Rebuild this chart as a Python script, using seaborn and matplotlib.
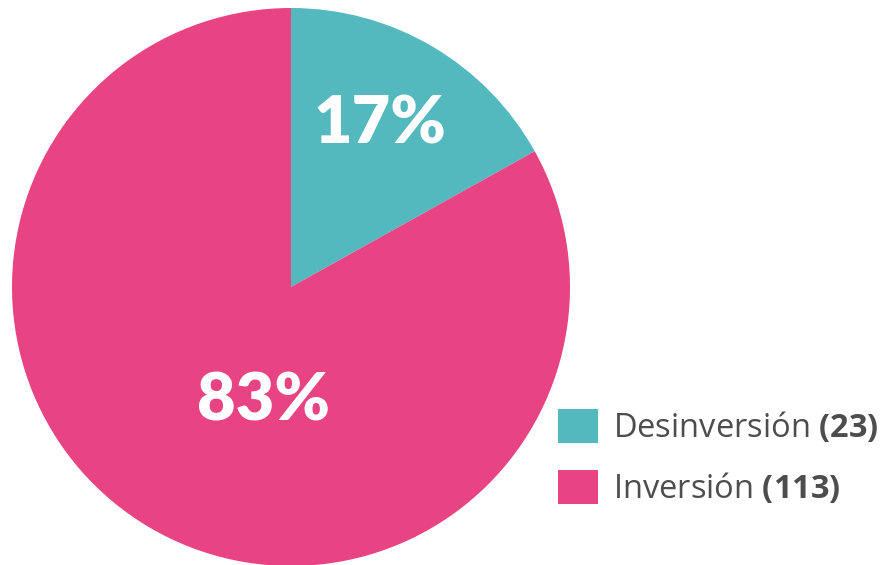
import matplotlib
matplotlib.use("Agg")
import matplotlib.pyplot as plt
import seaborn as sns
from matplotlib.patches import Patch

categories = ["Desinversión", "Inversión"]
counts = [23, 113]
colors = ["#53B9BF", "#E84382"]


def main():
    sns.set_theme(style="white")
    plt.rcParams["font.family"] = ["Open Sans", "DejaVu Sans"]
    plt.rcParams["mathtext.fontset"] = "custom"
    plt.rcParams["mathtext.rm"] = "Open Sans"
    plt.rcParams["mathtext.bf"] = "Open Sans:bold"

    fig = plt.figure(figsize=(8.85, 5.65), dpi=100)
    ax = fig.add_axes([12 / 885, -1 / 565, 558 / 885, 558 / 565])

    total = sum(counts)
    wedges, _ = ax.pie(counts, colors=colors, startangle=90, counterclock=False,
                       radius=1, wedgeprops=dict(linewidth=0))
    ax.set_xlim(-1, 1)
    ax.set_ylim(-1, 1)
    ax.set_aspect("equal")
    ax.axis("off")

    # percentage labels
    pos = [(0.32, 0.585), (-0.10, -0.41)]
    for (x, y), c in zip(pos, counts):
        ax.text(x, y, f"{round(c / total * 100)}%", ha="center", va="center",
                color="white", fontsize=48, fontweight="heavy", family="Lato")

    handles = [Patch(facecolor=col, edgecolor="none") for col in colors]
    labels = [f"{cat} $\\bf{{({n})}}$" for cat, n in zip(categories, counts)]
    fig.legend(handles, labels, loc="upper left",
               bbox_to_anchor=(558 / 885, 1 - 409 / 565),
               frameon=False, fontsize=23.5, handlelength=1.22, handleheight=1.22,
               handletextpad=0.45, labelspacing=0.78, labelcolor="#4D4D4D",
               borderpad=0, borderaxespad=0)

    fig.savefig("out.png", dpi=100)


if __name__ == "__main__":
    main()
